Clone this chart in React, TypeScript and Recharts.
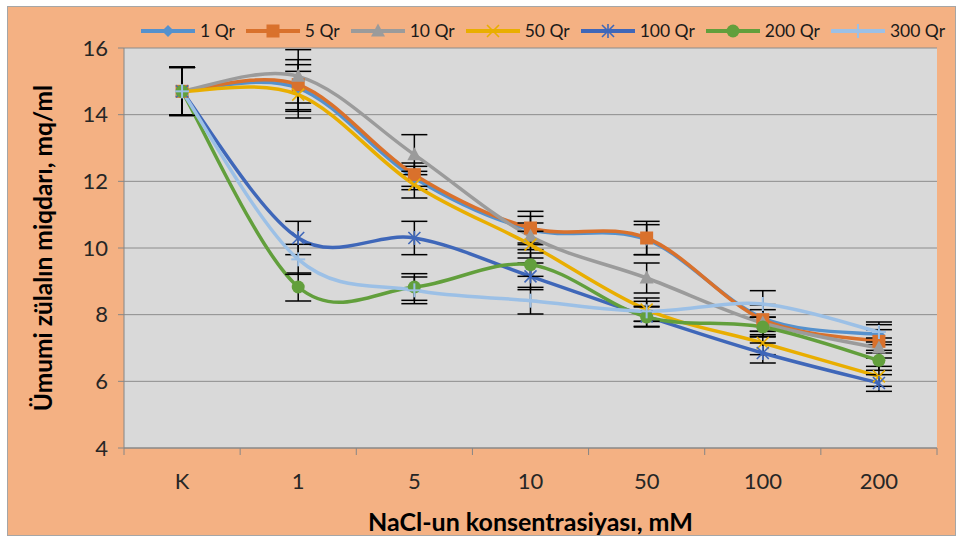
import React from 'react';
import { LineChart, Line, XAxis, YAxis, CartesianGrid, ErrorBar } from 'recharts';

// NaCl concentrations on the x axis
const CATEGORIES = ['K', '1', '5', '10', '50', '100', '200'];

// total protein, mg/ml, per irradiation dose
const QR1 = [14.7, 14.8, 12.1, 10.55, 10.25, 7.9, 7.4];
const QR5 = [14.7, 14.9, 12.2, 10.6, 10.3, 7.85, 7.2];
const QR10 = [14.7, 15.15, 12.8, 10.35, 9.1, 7.75, 7.0];
const QR50 = [14.7, 14.6, 11.9, 10.1, 8.15, 7.15, 6.15];
const QR100 = [14.7, 10.3, 10.3, 9.15, 7.95, 6.85, 5.95];
const QR200 = [14.7, 8.83, 8.83, 9.5, 7.93, 7.63, 6.63];
const QR300 = [14.7, 9.66, 8.73, 8.42, 8.1, 8.32, 7.48];

// standard deviations
const ERR1 = [0.72, 0.7, 0.35, 0.4, 0.45, 0.4, 0.3];
const ERR5 = [0.72, 0.75, 0.35, 0.5, 0.5, 0.45, 0.35];
const ERR10 = [0.72, 0.8, 0.6, 0.4, 0.45, 0.4, 0.3];
const ERR50 = [0.72, 0.7, 0.4, 0.4, 0.35, 0.35, 0.3];
const ERR100 = [0.72, 0.5, 0.5, 0.4, 0.3, 0.3, 0.25];
const ERR200 = [0.72, 0.42, 0.4, 0.35, 0.3, 0.3, 0.3];
const ERR300 = [0.72, 0.45, 0.4, 0.4, 0.3, 0.4, 0.3];

const Y_TICKS = [4, 6, 8, 10, 12, 14, 16];

type Shape = 'diamond' | 'square' | 'triangle' | 'x' | 'star' | 'circle' | 'plus';

const SERIES: { key: string; name: string; color: string; shape: Shape; values: number[]; errors: number[] }[] = [
  { key: 'q1', name: '1 Qr', color: '#5591cd', shape: 'diamond', values: QR1, errors: ERR1 },
  { key: 'q5', name: '5 Qr', color: '#d9712c', shape: 'square', values: QR5, errors: ERR5 },
  { key: 'q10', name: '10 Qr', color: '#9b9b9b', shape: 'triangle', values: QR10, errors: ERR10 },
  { key: 'q50', name: '50 Qr', color: '#e9ae00', shape: 'x', values: QR50, errors: ERR50 },
  { key: 'q100', name: '100 Qr', color: '#3f67b9', shape: 'star', values: QR100, errors: ERR100 },
  { key: 'q200', name: '200 Qr', color: '#629f3c', shape: 'circle', values: QR200, errors: ERR200 },
  { key: 'q300', name: '300 Qr', color: '#9cc0e6', shape: 'plus', values: QR300, errors: ERR300 },
];

const rows = CATEGORIES.map((c, i) => {
  const row: Record<string, string | number> = { conc: c };
  SERIES.forEach((s) => {
    row[s.key] = s.values[i];
    row[s.key + 'Err'] = s.errors[i];
  });
  return row;
});

const W = 958;
const H = 542;
const MARGIN = { top: 48, right: 21, bottom: 34, left: 20 };
const Y_AXIS_W = 104;
const X_AXIS_H = 60;
const PLOT_W = W - MARGIN.left - MARGIN.right - Y_AXIS_W;
const BAND = PLOT_W / CATEGORIES.length;
const FONT = 'Lato, "Open Sans", sans-serif';
const AXIS_GRAY = '#868686';

// Excel-like smoothed line (Catmull-Rom through every point)
function smoothCurve(context: any) {
  let pts: [number, number][] = [];
  return {
    areaStart() {},
    areaEnd() {},
    lineStart() {
      pts = [];
    },
    lineEnd() {
      if (!pts.length) return;
      context.moveTo(pts[0][0], pts[0][1]);
      for (let i = 0; i < pts.length - 1; i++) {
        const p0 = pts[i - 1] || pts[i];
        const p1 = pts[i];
        const p2 = pts[i + 1];
        const p3 = pts[i + 2] || p2;
        context.bezierCurveTo(
          p1[0] + (p2[0] - p0[0]) / 6,
          p1[1] + (p2[1] - p0[1]) / 6,
          p2[0] - (p3[0] - p1[0]) / 6,
          p2[1] - (p3[1] - p1[1]) / 6,
          p2[0],
          p2[1],
        );
      }
    },
    point(x: number, y: number) {
      pts.push([+x, +y]);
    },
  };
}

function Marker({ shape, cx, cy, color }: { shape: Shape; cx: number; cy: number; color: string }) {
  switch (shape) {
    case 'diamond':
      return <polygon points={`${cx},${cy - 6} ${cx + 6},${cy} ${cx},${cy + 6} ${cx - 6},${cy}`} fill={color} />;
    case 'square':
      return <rect x={cx - 6.5} y={cy - 6.5} width={13} height={13} fill={color} />;
    case 'triangle':
      return <polygon points={`${cx},${cy - 7.5} ${cx + 7},${cy + 5.5} ${cx - 7},${cy + 5.5}`} fill={color} />;
    case 'x':
      return (
        <g stroke={color} strokeWidth={1.6}>
          <line x1={cx - 6} y1={cy - 6} x2={cx + 6} y2={cy + 6} />
          <line x1={cx - 6} y1={cy + 6} x2={cx + 6} y2={cy - 6} />
        </g>
      );
    case 'star':
      return (
        <g stroke={color} strokeWidth={1.6}>
          <line x1={cx - 6} y1={cy - 6} x2={cx + 6} y2={cy + 6} />
          <line x1={cx - 6} y1={cy + 6} x2={cx + 6} y2={cy - 6} />
          <line x1={cx} y1={cy - 7} x2={cx} y2={cy + 7} />
        </g>
      );
    case 'circle':
      return <circle cx={cx} cy={cy} r={6.5} fill={color} />;
    case 'plus':
      return (
        <g stroke={color} strokeWidth={2}>
          <line x1={cx - 7} y1={cy} x2={cx + 7} y2={cy} />
          <line x1={cx} y1={cy - 7} x2={cx} y2={cy + 7} />
        </g>
      );
  }
}

function CategoryTick(props: any) {
  const { x, y, payload, index } = props;
  const half = BAND / 2;
  return (
    <g>
      <line x1={x - half} y1={y} x2={x - half} y2={y + 7} stroke={AXIS_GRAY} />
      {index === CATEGORIES.length - 1 && (
        <line x1={x + half} y1={y} x2={x + half} y2={y + 7} stroke={AXIS_GRAY} />
      )}
      <text x={x} y={y + 41} textAnchor="middle" fill="#262626" fontSize={22} fontFamily={FONT}>
        {payload.value}
      </text>
    </g>
  );
}

function Legend() {
  return (
    <div
      style={{
        position: 'absolute', left: 141, top: 21, display: 'flex', whiteSpace: 'nowrap',
        fontFamily: FONT, fontSize: 17.5, lineHeight: '20px', color: '#1a1a1a',
      }}
    >
      {SERIES.map((s) => (
        <div key={s.key} style={{ display: 'flex', alignItems: 'center', marginRight: 11 }}>
          <svg width={54} height={20} style={{ marginRight: 5 }}>
            <line x1={0} y1={10} x2={54} y2={10} stroke={s.color} strokeWidth={4} />
            <Marker shape={s.shape} cx={27} cy={10} color={s.color} />
          </svg>
          <span>{s.name}</span>
        </div>
      ))}
    </div>
  );
}

export default function App() {
  return (
    <div style={{ position: 'absolute', left: 0, top: 0, width: W, height: H, background: '#fff' }}>
      <div
        style={{
          position: 'absolute', left: 7, top: 6, width: 947, height: 528,
          background: '#f4b183', border: '1px solid #a6a6a6',
        }}
      />
      <div style={{ position: 'absolute', left: 0, top: 0 }}>
        <LineChart width={W} height={H} data={rows} margin={MARGIN}>
          <CartesianGrid vertical={false} stroke="#8c8c8c" fill="#d9d9d9" />
          <XAxis
            dataKey="conc"
            height={X_AXIS_H}
            padding={{ left: BAND / 2, right: BAND / 2 }}
            axisLine={{ stroke: AXIS_GRAY }}
            tickLine={false}
            tickSize={0}
            tickMargin={0}
            interval={0}
            tick={<CategoryTick />}
            label={(p: any) => (
              <text
                x={p.viewBox.x + p.viewBox.width / 2}
                y={p.viewBox.y + 73}
                textAnchor="middle"
                dominantBaseline="central"
                fontFamily={FONT}
                fontWeight="bold"
                fontSize={25}
                fill="#000"
              >
                NaCl-un konsentrasiyası, mM
              </text>
            )}
          />
          <YAxis
            width={Y_AXIS_W}
            domain={[4, 16]}
            ticks={Y_TICKS}
            interval={0}
            axisLine={{ stroke: AXIS_GRAY }}
            tickLine={{ stroke: AXIS_GRAY }}
            tickSize={6}
            tickMargin={10}
            tick={{ fill: '#262626', fontSize: 22, fontFamily: FONT }}
            label={(p: any) => {
              const cx = p.viewBox.x + 22;
              const cy = p.viewBox.y + p.viewBox.height / 2;
              return (
                <text
                  x={cx}
                  y={cy}
                  transform={`rotate(-90 ${cx} ${cy})`}
                  textAnchor="middle"
                  dominantBaseline="central"
                  fontFamily={FONT}
                  fontWeight="bold"
                  fontSize={24.5}
                  fill="#000"
                >
                  Ümumi zülalın miqdarı, mq/ml
                </text>
              );
            }}
          />
          {SERIES.map((s) => (
            <Line
              key={s.key}
              dataKey={s.key}
              name={s.name}
              type={smoothCurve as any}
              stroke={s.color}
              strokeWidth={3.5}
              isAnimationActive={false}
              dot={(p: any) => (
                <Marker key={`${s.key}-${p.index}`} shape={s.shape} cx={p.cx} cy={p.cy} color={s.color} />
              )}
              activeDot={false}
            >
              <ErrorBar dataKey={s.key + 'Err'} direction="y" width={13} stroke="#000" strokeWidth={1.5} />
            </Line>
          ))}
        </LineChart>
      </div>
      <Legend />
    </div>
  );
}
